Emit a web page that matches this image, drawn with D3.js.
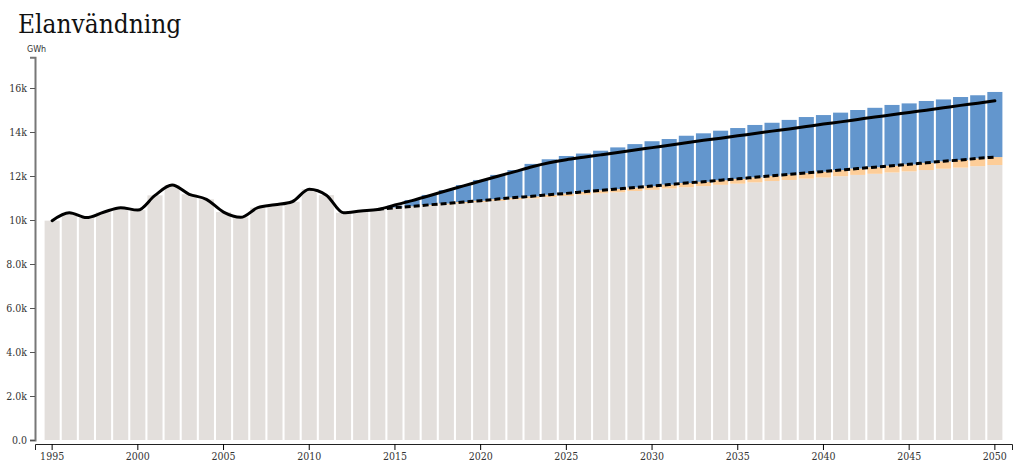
<!DOCTYPE html>
<html>
<head>
<meta charset="utf-8">
<script src="https://cdn.jsdelivr.net/npm/d3@7"></script>
<style>
  body { margin: 0; background: #fff; }
  svg { display: block; }
  .axis text { font-family: "DejaVu Serif Condensed", "DejaVu Serif", serif; font-size: 10.5px; fill: #333; }
</style>
</head>
<body>
<svg id="chart" width="1024" height="472"></svg>
<script>
const years = d3.range(1995, 2051);
const xTickYears = [1995, 2000, 2005, 2010, 2015, 2020, 2025, 2030, 2035, 2040, 2045, 2050];

// Grey base (historical + baseline projection), GWh
const greyValues = [
  9970, 10330, 10110, 10350, 10560, 10450, 11120, 11590, 11170, 10940,
  10360, 10120, 10560, 10690, 10830, 11400, 11130, 10330, 10410, 10480,
  10540, 10590, 10650, 10700, 10760, 10810, 10870, 10930, 10980, 11040,
  11090, 11150, 11210, 11260, 11320, 11370, 11430, 11490, 11540, 11600,
  11650, 11710, 11770, 11820, 11880, 11930, 11990, 12050, 12100, 12160,
  12210, 12270, 12330, 12380, 12445, 12500
];
// Orange layer (2015-2050)
const orangeValues = [
  20, 30, 40, 50, 60, 70, 80, 90, 100, 110,
  120, 130, 140, 150, 160, 170, 180, 190, 200, 210,
  220, 230, 240, 250, 260, 270, 280, 290, 300, 310,
  320, 330, 340, 350, 355, 360
];
// Blue layer (2015-2050)
const blueValues = [
  90, 290, 450, 610, 770, 940, 1100, 1250, 1470, 1610,
  1700, 1740, 1800, 1890, 1970, 2040, 2070, 2150, 2200, 2250,
  2310, 2380, 2410, 2480, 2540, 2570, 2610, 2660, 2700, 2760,
  2770, 2810, 2810, 2860, 2870, 2960
];
// Solid line (history + high projection), 1995-2050
const solidLine = [
  9970, 10330, 10110, 10350, 10560, 10450, 11120, 11590, 11170, 10940,
  10360, 10120, 10560, 10690, 10830, 11400, 11130, 10330, 10410, 10480,
  10680, 10880, 11100, 11330, 11550, 11770, 11990, 12200, 12420, 12600,
  12740, 12850, 12960, 13070, 13180, 13290, 13400, 13510, 13620, 13720,
  13830, 13930, 14040, 14140, 14250, 14360, 14460, 14570, 14680, 14780,
  14890, 14990, 15100, 15210, 15310, 15420
];
// Dashed line (low projection), 2014-2050
const dashedYears = d3.range(2014, 2051);
const dashedLine = [
  10480, 10560, 10620, 10690, 10750, 10820, 10880, 10950, 11020, 11080,
  11150, 11210, 11280, 11350, 11410, 11480, 11540, 11610, 11680, 11740,
  11810, 11870, 11940, 12010, 12070, 12140, 12200, 12270, 12340, 12400,
  12470, 12530, 12600, 12670, 12730, 12800, 12860
];

const projStart = 2015;
const rows = years.map((yr, i) => ({
  year: yr,
  grey: greyValues[i],
  orange: yr >= projStart ? orangeValues[yr - projStart] : 0,
  blue: yr >= projStart ? blueValues[yr - projStart] : 0
}));

const svg = d3.select("#chart");
const left = 35, right = 1012, bottom = 440;

const x = d3.scaleBand().domain(years).range([left, right]).paddingInner(0.12).paddingOuter(0.56);
const totals = rows.map(d => d.grey + d.orange + d.blue);
const yMax = d3.max(totals) * 1.1;
const y = d3.scaleLinear().domain([0, yMax]).range([bottom, bottom - 0.022 * yMax]);

const stack = d3.stack().keys(["grey", "orange", "blue"]);
const series = stack(rows);
const colors = { grey: "#e3dfdc", orange: "#fdcd98", blue: "#6396cd" };

svg.append("g").selectAll("g").data(series).join("g")
  .attr("fill", s => colors[s.key])
  .selectAll("rect").data(s => s).join("rect")
  .attr("x", d => x(d.data.year))
  .attr("width", x.bandwidth())
  .attr("y", d => y(d[1]))
  .attr("height", d => Math.max(0, y(d[0]) - y(d[1])));

const cx = yr => x(yr) + x.bandwidth() / 2;
const line = d3.line().curve(d3.curveMonotoneX);

svg.append("path")
  .attr("d", line(years.map((yr, i) => [cx(yr), y(solidLine[i])])))
  .attr("fill", "none").attr("stroke", "#000").attr("stroke-width", 3)
  .attr("stroke-linejoin", "round").attr("stroke-linecap", "round");

svg.append("path")
  .attr("d", line(dashedYears.map((yr, i) => [cx(yr), y(dashedLine[i])])))
  .attr("fill", "none").attr("stroke", "#000").attr("stroke-width", 3)
  .attr("stroke-dasharray", "6,3");

// Y axis
const yAxis = svg.append("g").attr("class", "axis")
  .attr("transform", `translate(${left},0)`)
  .call(d3.axisLeft(y).ticks(10).tickFormat(d3.format(".2s")).tickSize(5).tickPadding(3));
yAxis.select(".domain").attr("stroke", "#777").attr("stroke-width", 2);
yAxis.selectAll(".tick line").attr("stroke", "#555");

// X axis
const xAxis = svg.append("g").attr("class", "axis")
  .attr("transform", `translate(0,${bottom + 4})`)
  .call(d3.axisBottom(x).tickValues(xTickYears).tickSize(6).tickPadding(3));
xAxis.select(".domain").attr("stroke", "#222");

// Labels
svg.append("text").attr("x", 18).attr("y", 33)
  .attr("font-family", "'DejaVu Serif Condensed', 'DejaVu Serif', serif")
  .attr("font-size", 26).attr("fill", "#111").text("Elanvändning");
svg.append("text").attr("x", 27).attr("y", 52)
  .attr("font-family", "'DejaVu Sans', sans-serif")
  .attr("font-size", 8).attr("fill", "#333").text("GWh");
</script>
</body>
</html>
